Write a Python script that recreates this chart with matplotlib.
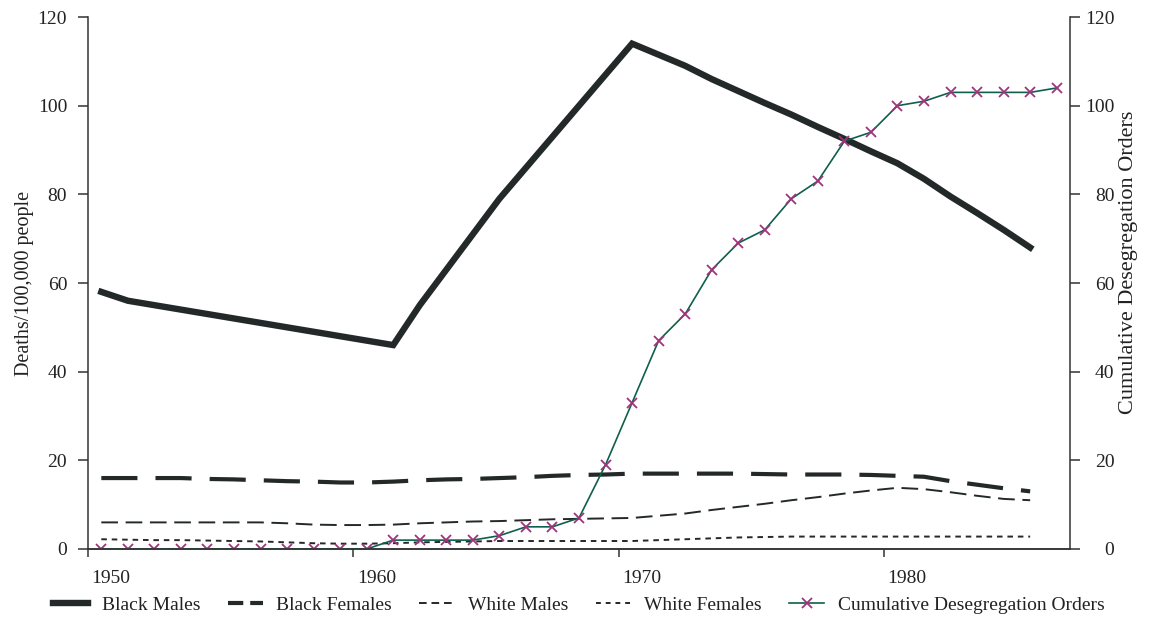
import numpy as np
import matplotlib.pyplot as plt
from matplotlib.lines import Line2D
from matplotlib.transforms import ScaledTranslation

plt.rcParams['font.family'] = ['Liberation Serif', 'DejaVu Serif']
plt.rcParams['lines.scale_dashes'] = False

# Số liệu
years = list(range(1950, 1987))
years_mort = list(range(1950, 1986))

black_males = [58, 56, 55, 54, 53, 52, 51, 50, 49, 48, 47, 46,
               55, 63, 71, 79, 86, 93, 100, 107, 114,
               111.5, 109, 106, 103.3, 100.6, 98, 95.2, 92.5, 89.7, 87,
               83.5, 79.5, 75.8, 72, 68]
black_females = [16, 16, 16, 16, 15.8, 15.7, 15.5, 15.3, 15.2, 15, 15, 15.2,
                 15.5, 15.7, 15.8, 16, 16.2, 16.5, 16.7, 16.8, 17,
                 17, 17, 17, 17, 16.9, 16.8, 16.8, 16.8, 16.7, 16.5,
                 16.3, 15.3, 14.5, 13.7, 13]
white_males = [6, 6, 6, 6, 6, 6, 6, 5.8, 5.5, 5.4, 5.4, 5.5,
               5.8, 6, 6.2, 6.3, 6.5, 6.7, 6.8, 6.9, 7,
               7.5, 8, 8.8, 9.5, 10.2, 11, 11.7, 12.5, 13.2, 13.8,
               13.5, 12.8, 12, 11.3, 11]
white_females = [2.2, 2.1, 2.0, 2.0, 1.9, 1.8, 1.7, 1.5, 1.3, 1.2, 1.2, 1.3,
                 1.5, 1.6, 1.7, 1.8, 1.8, 1.8, 1.8, 1.8, 1.8,
                 2.0, 2.2, 2.4, 2.6, 2.7, 2.8, 2.8, 2.8, 2.8, 2.8,
                 2.8, 2.8, 2.8, 2.8, 2.8]
deseg_orders = [0, 0, 0, 0, 0, 0, 0, 0, 0, 0, 0,
                2, 2, 2, 2, 3, 5, 5, 7, 19, 33, 47, 53, 63, 69, 72, 79, 83,
                92, 94, 100, 101, 103, 103, 103, 103, 104]

decades = [1950, 1960, 1970, 1980]
dark = '#232828'
green = '#0f5f4c'
magenta = '#a0347c'

fig = plt.figure(figsize=(11.51, 6.19), dpi=100)
ax = fig.add_axes([0.0765, 0.1131, 0.8531, 0.8594])
ax2 = ax.twinx()

ax.plot(years_mort, black_males, color=dark, lw=4.6, solid_joinstyle='miter')
ax.plot(years_mort, black_females, color=dark, lw=3, dashes=(26, 13))
ax.plot(years_mort, white_males, color=dark, lw=1.4, dashes=(12, 5.5))
ax.plot(years_mort, white_females, color=dark, lw=1.4, dashes=(4, 3.5))
ax2.plot(years, deseg_orders, color=green, lw=1.2, marker='x', ms=7,
         mec=magenta, mew=1.3)

for a in (ax, ax2):
    a.set_xlim(1949.5, 1986.5)
    a.set_ylim(0, 120)
    a.set_yticks(np.arange(0, 121, 20))
    a.spines['top'].set_visible(False)
    for s in ('left', 'right', 'bottom'):
        a.spines[s].set_color('#333333')
        a.spines[s].set_linewidth(1.1)
    a.tick_params(colors='#333333', labelcolor='#222222', labelsize=14,
                  length=7, width=1.1, direction='out')

ax.spines['right'].set_visible(False)
ax2.spines['left'].set_visible(False)
ax.tick_params(axis='y', pad=8)
ax2.tick_params(axis='y', pad=25)
plt.setp(ax2.get_yticklabels(), ha='right')

# nhãn năm canh trái, lệch khỏi vạch chia một chút
ax.set_xticks([d - 0.5 for d in decades])
ax.set_xticklabels([str(d) for d in decades])
ax.tick_params(axis='x', length=6, pad=9)
shift = ScaledTranslation(2.5 / 72, 0, fig.dpi_scale_trans)
for lbl in ax.get_xticklabels():
    lbl.set_ha('left')
    lbl.set_transform(lbl.get_transform() + shift)

ax.set_ylabel('Deaths/100,000 people', fontsize=14.5, color='#222222')
ax.yaxis.set_label_coords(-0.055, 0.5)
ax2.set_ylabel('Cumulative Desegregation Orders', fontsize=16, color='#222222')
ax2.yaxis.set_label_coords(1.050, 0.538)

handles = [
    Line2D([], [], color=dark, lw=4.6),
    Line2D([], [], color=dark, lw=3, dashes=(11, 5)),
    Line2D([], [], color=dark, lw=1.4, dashes=(5.5, 3.5)),
    Line2D([], [], color=dark, lw=1.4, dashes=(3.5, 3.5)),
    Line2D([], [], color=green, lw=1.2, marker='x', ms=7, mec=magenta, mew=1.3),
]
labels = ['Black Males', 'Black Females', 'White Males', 'White Females',
          'Cumulative Desegregation Orders']
fig.legend(handles, labels, loc='center', bbox_to_anchor=(0.503, 0.023),
           ncol=5, frameon=False, fontsize=14, handlelength=1.8,
           handletextpad=0.7, columnspacing=1.4, labelcolor='#222222')

fig.savefig('out.png', dpi=100)
